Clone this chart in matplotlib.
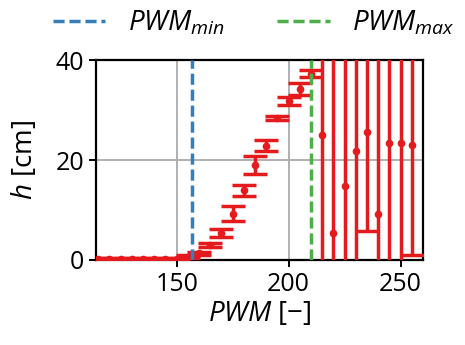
import numpy as np
import matplotlib
matplotlib.use("Agg")
import matplotlib.pyplot as plt

plt.rcParams['font.family'] = ['Open Sans', 'DejaVu Sans']
plt.rcParams['mathtext.fontset'] = 'custom'
plt.rcParams['mathtext.rm'] = 'Open Sans'
plt.rcParams['mathtext.it'] = 'Open Sans:italic'

# measured steady-state water level vs PWM
pwm = [115, 120, 125, 130, 135, 140, 145, 150, 155, 160, 165, 170, 175, 180,
       185, 190, 195, 200, 205, 210, 215, 220, 225, 230, 235, 240, 245, 250, 255]
h = [0.2, 0.2, 0.2, 0.2, 0.2, 0.2, 0.2, 0.2, 0.6, 1.3, 3.0, 5.3, 9.3, 14.0,
     19.1, 22.9, 28.5, 31.9, 34.2, 37.3, 25.1, 5.4, 14.8, 21.9, 25.7, 9.3, 23.5, 23.5, 23.0]
h_err = [0.15, 0.15, 0.15, 0.15, 0.15, 0.15, 0.15, 0.15, 0.3, 0.35, 0.45, 0.8, 1.5, 1.1,
         1.8, 1.1, 0.4, 0.8, 1.2, 0.7, 30, 36, 28, 25, 20, 33, 26, 26, 22]

pwm_min = 157
pwm_max = 210

red = '#e41a1c'
blue = '#377eb8'
green = '#4daf4a'

fig = plt.figure(figsize=(4.65, 3.45), dpi=100)
ax = fig.add_axes([0.2065, 0.2464, 0.7032, 0.5796])

ax.errorbar(pwm, h, yerr=h_err, fmt='o', color=red, ms=4.5, elinewidth=2.5,
            capsize=8.3, capthick=2.5, zorder=3)
l1 = ax.axvline(pwm_min, color=blue, ls='--', lw=2.5, dashes=(3.2, 1.4), zorder=4,
                label='$PWM_{min}$')
l2 = ax.axvline(pwm_max, color=green, ls='--', lw=2.5, dashes=(3.2, 1.4), zorder=4,
                label='$PWM_{max}$')

ax.set_xlim(114, 260)
ax.set_ylim(0, 40)
ax.set_xticks([150, 200, 250])
ax.set_yticks([0, 20, 40])
ax.grid(True, color='#b0b0b0', lw=1.4)
ax.set_axisbelow(True)
for s in ax.spines.values():
    s.set_linewidth(1.6)
ax.tick_params(labelsize=18, width=1.4, length=5)
ax.set_xlabel('$PWM$ [$-$]', fontsize=20, labelpad=2)
ax.set_ylabel('$h$ [cm]', fontsize=20, labelpad=12)

fig.legend(handles=[l1, l2], loc='upper center', bbox_to_anchor=(0.545, 1.045),
           ncol=2, frameon=False, fontsize=20, handlelength=1.9,
           handletextpad=0.8, columnspacing=1.9)

fig.savefig('out.png', dpi=100)
